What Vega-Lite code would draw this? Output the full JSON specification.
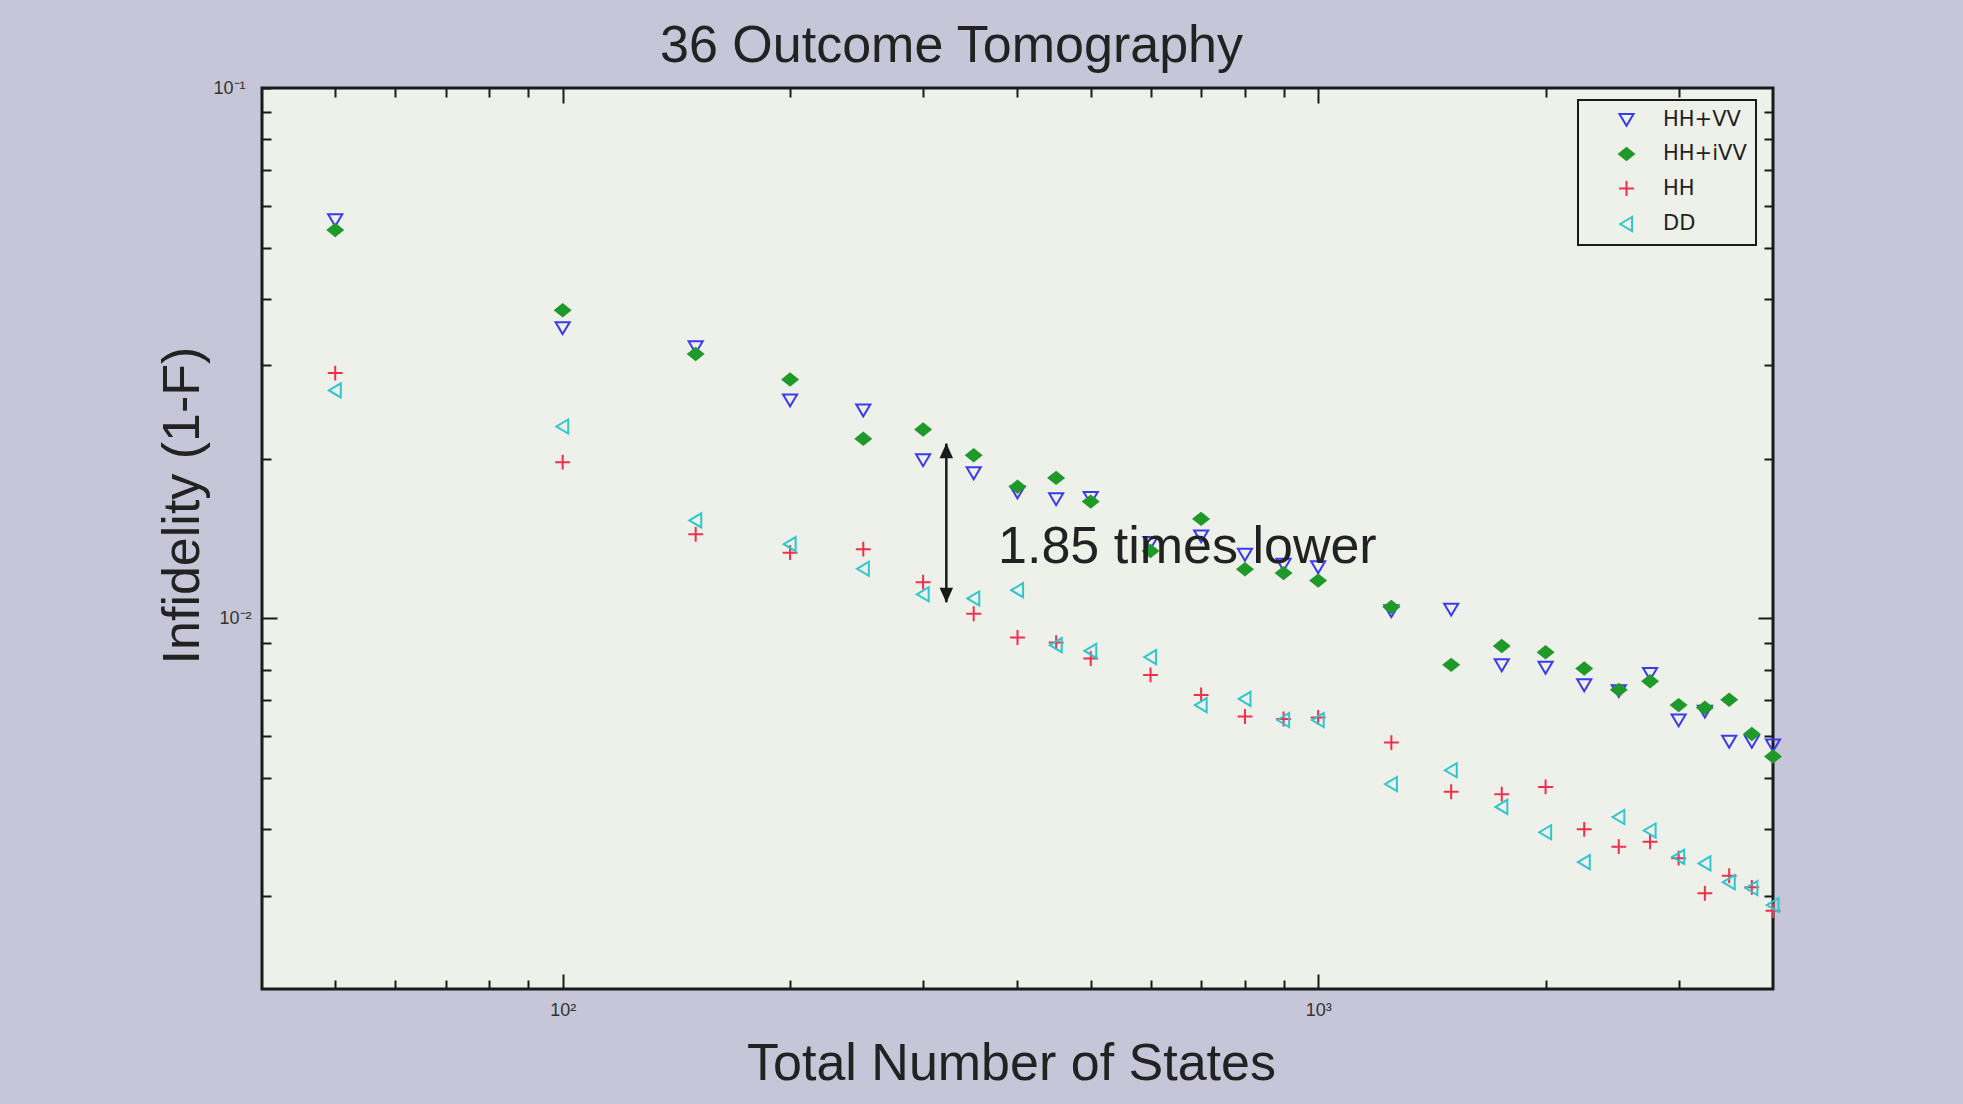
{
  "$schema": "https://vega.github.io/schema/vega-lite/v6.json",
  "width": 1511,
  "height": 901,
  "autosize": {"type": "none"},
  "padding": {"left": 262, "top": 88, "right": 190, "bottom": 115},
  "background": "#c6c6d8",
  "config": {
    "font": "Liberation Sans",
    "view": {"fill": "#eef0ea", "stroke": "#1a1a1a", "strokeWidth": 3},
    "legend": {
      "orient": "none",
      "legendX": 1316,
      "legendY": 12,
      "padding": 9,
      "rowPadding": 12.5,
      "strokeColor": "#1a1a1a",
      "strokeWidth": 2,
      "fillColor": "#eef0ea",
      "labelFont": "DejaVu Sans",
      "labelFontSize": 21,
      "labelColor": "#222222",
      "symbolSize": 220,
      "symbolStrokeWidth": 2,
      "symbolOffset": 29,
      "labelOffset": 26
    }
  },
  "title": {
    "text": "36 Outcome Tomography",
    "font": "Liberation Sans",
    "fontSize": 52,
    "fontWeight": "normal",
    "color": "#222222",
    "anchor": "middle",
    "dx": -66,
    "offset": -35,
    "baseline": "alphabetic"
  },
  "datasets": {
    "annot": [
      {"ax": 322, "top": 0.02135, "bot": 0.01072, "htop": 0.0207, "hbot": 0.01105, "tx": 377, "ty": 0.01365, "label": "1.85 times lower"}
    ],
    "points": [
      {"n": 50, "s": "HH+VV", "v": 0.0564}, {"n": 50, "s": "HH+iVV", "v": 0.054}, {"n": 50, "s": "HH", "v": 0.029}, {"n": 50, "s": "DD", "v": 0.0269},
      {"n": 100, "s": "HH+VV", "v": 0.0353}, {"n": 100, "s": "HH+iVV", "v": 0.0381}, {"n": 100, "s": "HH", "v": 0.0197}, {"n": 100, "s": "DD", "v": 0.023},
      {"n": 150, "s": "HH+VV", "v": 0.0325}, {"n": 150, "s": "HH+iVV", "v": 0.0315}, {"n": 150, "s": "HH", "v": 0.0144}, {"n": 150, "s": "DD", "v": 0.0153},
      {"n": 200, "s": "HH+VV", "v": 0.0258}, {"n": 200, "s": "HH+iVV", "v": 0.0282}, {"n": 200, "s": "HH", "v": 0.0133}, {"n": 200, "s": "DD", "v": 0.0138},
      {"n": 250, "s": "HH+VV", "v": 0.0247}, {"n": 250, "s": "HH+iVV", "v": 0.0218}, {"n": 250, "s": "HH", "v": 0.0135}, {"n": 250, "s": "DD", "v": 0.0124},
      {"n": 300, "s": "HH+VV", "v": 0.0199}, {"n": 300, "s": "HH+iVV", "v": 0.0227}, {"n": 300, "s": "HH", "v": 0.0117}, {"n": 300, "s": "DD", "v": 0.0111},
      {"n": 350, "s": "HH+VV", "v": 0.0188}, {"n": 350, "s": "HH+iVV", "v": 0.0203}, {"n": 350, "s": "HH", "v": 0.0102}, {"n": 350, "s": "DD", "v": 0.0109},
      {"n": 400, "s": "HH+VV", "v": 0.0173}, {"n": 400, "s": "HH+iVV", "v": 0.0177}, {"n": 400, "s": "HH", "v": 0.0092}, {"n": 400, "s": "DD", "v": 0.0113},
      {"n": 450, "s": "HH+VV", "v": 0.0168}, {"n": 450, "s": "HH+iVV", "v": 0.0184}, {"n": 450, "s": "HH", "v": 0.009}, {"n": 450, "s": "DD", "v": 0.0089},
      {"n": 500, "s": "HH+VV", "v": 0.0169}, {"n": 500, "s": "HH+iVV", "v": 0.0166}, {"n": 500, "s": "HH", "v": 0.0084}, {"n": 500, "s": "DD", "v": 0.00868},
      {"n": 600, "s": "HH+VV", "v": 0.0139}, {"n": 600, "s": "HH+iVV", "v": 0.0134}, {"n": 600, "s": "HH", "v": 0.00782}, {"n": 600, "s": "DD", "v": 0.00845},
      {"n": 700, "s": "HH+VV", "v": 0.0143}, {"n": 700, "s": "HH+iVV", "v": 0.0154}, {"n": 700, "s": "HH", "v": 0.00717}, {"n": 700, "s": "DD", "v": 0.00686},
      {"n": 800, "s": "HH+VV", "v": 0.0132}, {"n": 800, "s": "HH+iVV", "v": 0.01237}, {"n": 800, "s": "HH", "v": 0.00653}, {"n": 800, "s": "DD", "v": 0.00705},
      {"n": 900, "s": "HH+VV", "v": 0.01264}, {"n": 900, "s": "HH+iVV", "v": 0.01217}, {"n": 900, "s": "HH", "v": 0.00646}, {"n": 900, "s": "DD", "v": 0.00643},
      {"n": 1000, "s": "HH+VV", "v": 0.0125}, {"n": 1000, "s": "HH+iVV", "v": 0.01178}, {"n": 1000, "s": "HH", "v": 0.0065}, {"n": 1000, "s": "DD", "v": 0.00643},
      {"n": 1250, "s": "HH+VV", "v": 0.01033}, {"n": 1250, "s": "HH+iVV", "v": 0.0105}, {"n": 1250, "s": "HH", "v": 0.00583}, {"n": 1250, "s": "DD", "v": 0.00487},
      {"n": 1500, "s": "HH+VV", "v": 0.0104}, {"n": 1500, "s": "HH+iVV", "v": 0.00817}, {"n": 1500, "s": "HH", "v": 0.00471}, {"n": 1500, "s": "DD", "v": 0.00517},
      {"n": 1750, "s": "HH+VV", "v": 0.00817}, {"n": 1750, "s": "HH+iVV", "v": 0.00887}, {"n": 1750, "s": "HH", "v": 0.00466}, {"n": 1750, "s": "DD", "v": 0.00441},
      {"n": 2000, "s": "HH+VV", "v": 0.00808}, {"n": 2000, "s": "HH+iVV", "v": 0.00863}, {"n": 2000, "s": "HH", "v": 0.00481}, {"n": 2000, "s": "DD", "v": 0.00395},
      {"n": 2250, "s": "HH+VV", "v": 0.00749}, {"n": 2250, "s": "HH+iVV", "v": 0.00804}, {"n": 2250, "s": "HH", "v": 0.004}, {"n": 2250, "s": "DD", "v": 0.00347},
      {"n": 2500, "s": "HH+VV", "v": 0.0073}, {"n": 2500, "s": "HH+iVV", "v": 0.00733}, {"n": 2500, "s": "HH", "v": 0.00371}, {"n": 2500, "s": "DD", "v": 0.00422},
      {"n": 2750, "s": "HH+VV", "v": 0.00787}, {"n": 2750, "s": "HH+iVV", "v": 0.00761}, {"n": 2750, "s": "HH", "v": 0.00379}, {"n": 2750, "s": "DD", "v": 0.00398},
      {"n": 3000, "s": "HH+VV", "v": 0.00643}, {"n": 3000, "s": "HH+iVV", "v": 0.00686}, {"n": 3000, "s": "HH", "v": 0.00353}, {"n": 3000, "s": "DD", "v": 0.00355},
      {"n": 3250, "s": "HH+VV", "v": 0.00668}, {"n": 3250, "s": "HH+iVV", "v": 0.00678}, {"n": 3250, "s": "HH", "v": 0.00303}, {"n": 3250, "s": "DD", "v": 0.00345},
      {"n": 3500, "s": "HH+VV", "v": 0.00586}, {"n": 3500, "s": "HH+iVV", "v": 0.00702}, {"n": 3500, "s": "HH", "v": 0.00327}, {"n": 3500, "s": "DD", "v": 0.00318},
      {"n": 3750, "s": "HH+VV", "v": 0.00586}, {"n": 3750, "s": "HH+iVV", "v": 0.00605}, {"n": 3750, "s": "HH", "v": 0.00311}, {"n": 3750, "s": "DD", "v": 0.0031},
      {"n": 4000, "s": "HH+VV", "v": 0.00577}, {"n": 4000, "s": "HH+iVV", "v": 0.00549}, {"n": 4000, "s": "HH", "v": 0.00281}, {"n": 4000, "s": "DD", "v": 0.00288}
    ]
  },
  "layer": [
    {
      "data": {"name": "annot"},
      "mark": {"type": "rule", "stroke": "#1a1a1a", "strokeWidth": 2.5},
      "encoding": {
        "x": {
          "field": "ax", "type": "quantitative",
          "scale": {"type": "log", "domain": [40, 4000]},
          "axis": {
            "orient": "top", "title": null, "labels": false, "domain": false, "grid": false,
            "values": [50, 60, 70, 80, 90, 100, 200, 300, 400, 500, 600, 700, 800, 900, 1000, 2000, 3000],
            "tickColor": "#1a1a1a", "tickWidth": 2,
            "tickSize": {"condition": {"test": "datum.value == 100 || datum.value == 1000", "value": -15}, "value": -9}
          }
        },
        "y": {
          "field": "top", "type": "quantitative",
          "scale": {"type": "log", "domain": [0.002, 0.1]},
          "axis": {
            "orient": "right", "title": null, "labels": false, "domain": false, "grid": false,
            "values": [0.003, 0.004, 0.005, 0.006, 0.007, 0.008, 0.009, 0.01, 0.02, 0.03, 0.04, 0.05, 0.06, 0.07, 0.08, 0.09],
            "tickColor": "#1a1a1a", "tickWidth": 2,
            "tickSize": {"condition": {"test": "datum.value == 0.01", "value": -15}, "value": -9}
          }
        },
        "y2": {"field": "bot"}
      }
    },
    {
      "data": {"name": "annot"},
      "mark": {"type": "point", "shape": "M0,-1L0.9,1L-0.9,1Z", "filled": true, "fill": "#1a1a1a", "size": 225, "opacity": 1},
      "encoding": {
        "x": {"field": "ax", "type": "quantitative", "scale": {"type": "log", "domain": [40, 4000]}, "axis": null},
        "y": {"field": "htop", "type": "quantitative", "scale": {"type": "log", "domain": [0.002, 0.1]}, "axis": null}
      }
    },
    {
      "data": {"name": "annot"},
      "mark": {"type": "point", "shape": "M0,1L0.9,-1L-0.9,-1Z", "filled": true, "fill": "#1a1a1a", "size": 225, "opacity": 1},
      "encoding": {
        "x": {"field": "ax", "type": "quantitative", "scale": {"type": "log", "domain": [40, 4000]}, "axis": null},
        "y": {"field": "hbot", "type": "quantitative", "scale": {"type": "log", "domain": [0.002, 0.1]}, "axis": null}
      }
    },
    {
      "data": {"name": "points"},
      "mark": {"type": "point", "size": 220, "strokeWidth": 2, "opacity": 1},
      "encoding": {
        "x": {
          "field": "n", "type": "quantitative",
          "scale": {"type": "log", "domain": [40, 4000]},
          "axis": {
            "orient": "bottom", "domain": false, "grid": false,
            "values": [50, 60, 70, 80, 90, 100, 200, 300, 400, 500, 600, 700, 800, 900, 1000, 2000, 3000],
            "labelExpr": "datum.value == 100 ? '10²' : (datum.value == 1000 ? '10³' : '')",
            "labelFontSize": 18, "labelColor": "#333333", "labelFont": "Liberation Sans",
            "labelBaseline": "top", "labelPadding": 27,
            "tickColor": "#1a1a1a", "tickWidth": 2,
            "tickSize": {"condition": {"test": "datum.value == 100 || datum.value == 1000", "value": -15}, "value": -9},
            "title": "Total Number of States",
            "titleFont": "Liberation Sans", "titleFontSize": 52, "titleFontWeight": "normal", "titleColor": "#222222",
            "titleX": 749, "titleY": 90, "titleBaseline": "alphabetic", "titleAlign": "center"
          }
        },
        "y": {
          "field": "v", "type": "quantitative",
          "scale": {"type": "log", "domain": [0.002, 0.1]},
          "axis": {
            "orient": "left", "domain": false, "grid": false,
            "values": [0.003, 0.004, 0.005, 0.006, 0.007, 0.008, 0.009, 0.01, 0.02, 0.03, 0.04, 0.05, 0.06, 0.07, 0.08, 0.09, 0.1],
            "labelExpr": "datum.value == 0.01 ? '10⁻²' : (datum.value == 0.1 ? '10⁻¹' : '')",
            "labelFontSize": 18, "labelColor": "#333333", "labelFont": "Liberation Sans",
            "labelPadding": 26,
            "tickColor": "#1a1a1a", "tickWidth": 2,
            "tickSize": {"condition": {"test": "datum.value == 0.01", "value": -15}, "value": -9},
            "title": "Infidelity (1-F)",
            "titleFont": "Liberation Sans", "titleFontSize": 52, "titleFontWeight": "normal", "titleColor": "#222222",
            "titleAngle": -90, "titleX": -64, "titleY": 417, "titleBaseline": "alphabetic", "titleAlign": "center"
          }
        },
        "stroke": {
          "field": "s", "type": "nominal",
          "scale": {"domain": ["HH+VV", "HH+iVV", "HH", "DD"], "range": ["#3a3aee", "#1f9a2a", "#f0304a", "#2fc6cf"]},
          "legend": {"title": null}
        },
        "fill": {
          "field": "s", "type": "nominal",
          "scale": {"domain": ["HH+VV", "HH+iVV", "HH", "DD"], "range": ["rgba(0,0,0,0)", "#1f9a2a", "rgba(0,0,0,0)", "rgba(0,0,0,0)"]},
          "legend": {"title": null}
        },
        "shape": {
          "field": "s", "type": "nominal",
          "scale": {"domain": ["HH+VV", "HH+iVV", "HH", "DD"], "range": ["M0,0.85L-0.95,-0.75L0.95,-0.75Z", "M-1,0L0,-0.8L1,0L0,0.8Z", "M-1,0H1M0,-1V1", "M-0.85,0L0.75,-0.95L0.75,0.95Z"]},
          "legend": {"title": null}
        }
      }
    },
    {
      "data": {"name": "annot"},
      "mark": {"type": "text", "align": "left", "baseline": "middle", "font": "Liberation Sans", "fontSize": 52, "color": "#222222"},
      "encoding": {
        "x": {"field": "tx", "type": "quantitative", "scale": {"type": "log", "domain": [40, 4000]}, "axis": null},
        "y": {"field": "ty", "type": "quantitative", "scale": {"type": "log", "domain": [0.002, 0.1]}, "axis": null},
        "text": {"field": "label"}
      }
    }
  ],
  "resolve": {"axis": {"x": "independent", "y": "independent"}}
}
